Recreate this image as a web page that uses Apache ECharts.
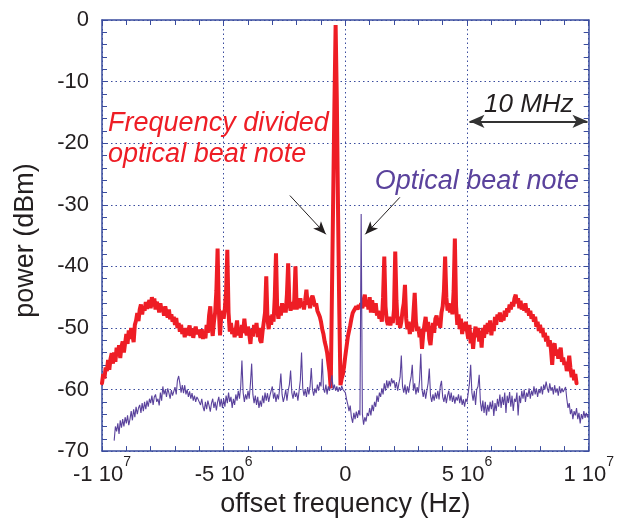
<!DOCTYPE html>
<html><head><meta charset="utf-8">
<script src="https://cdn.jsdelivr.net/npm/echarts@6/dist/echarts.min.js"></script>
<style>html,body{margin:0;padding:0;background:#fff}#c{width:617px;height:523px}</style>
</head><body><div id="c"></div>
<script>
// frequency grid (Hz): 401 points from -10 MHz to +10 MHz
const freqStartHz = -1e7;
const freqStepHz = 5e4;

// Frequency divided optical beat note (dBm), red
const redDbm = [
-59.0,-57.5,-58.2,-56.4,-57.0,-55.2,-56.8,-55.0,-54.1,-55.8,-54.0,-55.5,-53.2,-54.6,-52.8,-54.9,-53.0,-52.2,-54.0,-52.5,
-51.0,-52.6,-50.4,-51.8,-50.0,-50.2,-52.3,-49.5,-48.8,-47.6,-48.9,-47.0,-46.2,-47.8,-46.5,-47.2,-45.8,-46.9,-46.0,-45.5,
-46.8,-45.0,-46.5,-45.2,-47.0,-45.8,-46.3,-47.5,-46.0,-47.2,-46.8,-48.0,-46.5,-47.6,-48.3,-47.0,-48.6,-47.8,-49.0,-48.2,
-49.5,-48.4,-50.0,-49.2,-50.6,-49.5,-51.0,-50.2,-51.5,-50.0,-51.2,-50.4,-49.6,-51.3,-50.1,-51.6,-50.5,-49.8,-51.0,-50.3,
-50.8,-51.6,-50.2,-51.8,-50.5,-51.7,-49.5,-50.8,-48.0,-46.5,-49.8,-51.3,-49.0,-47.5,-44.0,-37.1,-47.0,-51.2,-48.0,-47.2,
-48.5,-46.8,-44.0,-37.3,-47.5,-50.6,-49.2,-51.0,-50.0,-51.5,-50.2,-48.8,-51.2,-50.0,-51.6,-49.5,-50.8,-48.5,-50.5,-51.2,
-49.8,-51.0,-52.6,-50.2,-51.4,-49.5,-50.8,-49.2,-51.5,-50.0,-52.0,-52.4,-50.5,-49.0,-47.5,-41.6,-48.5,-50.2,-48.0,-49.5,
-47.8,-49.0,-45.0,-37.9,-47.0,-48.5,-46.5,-48.0,-46.0,-47.5,-46.2,-47.5,-44.5,-39.5,-46.0,-47.2,-45.8,-47.0,-45.5,-40.0,
-47.0,-45.5,-46.8,-45.2,-46.5,-45.8,-47.0,-45.5,-43.8,-46.2,-45.6,-46.8,-45.2,-44.8,-45.5,-46.5,-46.0,-47.2,-47.0,-48.2,
-49.0,-50.2,-51.0,-52.2,-53.0,-54.0,-55.6,-57.2,-59.8,-44.0,-29.0,-14.0,-0.8,-13.0,-31.0,-47.0,-59.3,-58.2,-57.5,-56.2,
-54.5,-53.0,-51.5,-50.5,-49.6,-48.5,-47.6,-47.2,-46.9,-46.5,-47.0,-46.3,-46.8,-46.0,-46.8,-45.5,-44.6,-46.5,-45.5,-47.0,
-45.0,-47.5,-45.5,-46.8,-47.5,-46.0,-48.0,-47.2,-48.5,-47.8,-49.0,-45.0,-38.4,-46.5,-48.8,-49.5,-48.2,-49.6,-48.5,-49.2,
-47.0,-37.6,-45.5,-49.5,-48.2,-50.0,-49.0,-47.2,-46.0,-43.0,-48.5,-50.2,-49.0,-51.0,-49.5,-50.6,-47.5,-44.3,-49.0,-50.5,
-49.8,-51.5,-50.2,-53.4,-51.0,-49.5,-48.2,-50.6,-49.0,-51.8,-52.8,-50.5,-49.2,-50.8,-48.5,-48.0,-49.6,-48.5,-50.0,-47.5,
-46.5,-44.0,-38.4,-45.0,-47.2,-46.0,-47.5,-46.2,-47.8,-44.0,-35.5,-46.5,-49.5,-47.8,-50.2,-48.5,-51.0,-49.2,-50.5,-49.0,
-50.5,-51.8,-49.5,-52.5,-50.8,-53.4,-51.0,-49.8,-51.5,-50.0,-52.2,-50.5,-53.2,-50.0,-51.6,-49.5,-51.0,-49.2,-50.6,-48.8,
-51.2,-49.5,-50.5,-48.2,-49.5,-47.8,-48.6,-47.5,-49.0,-48.0,-48.8,-47.2,-48.2,-46.8,-47.5,-46.2,-47.0,-45.8,-46.5,-45.2,
-44.6,-46.0,-45.2,-46.8,-45.6,-47.0,-46.2,-47.2,-46.0,-47.5,-46.8,-48.0,-47.2,-48.5,-47.8,-49.0,-48.2,-49.8,-49.0,-50.5,
-49.5,-50.8,-50.0,-51.5,-50.8,-52.2,-51.3,-53.0,-52.0,-53.5,-56.0,-53.0,-52.5,-54.5,-53.5,-55.0,-54.0,-53.2,-55.5,-54.8,
-56.0,-55.5,-57.0,-56.2,-54.5,-56.5,-58.0,-56.8,-58.5,-57.5,-59.0,null,null,null,null,null,null,null,null,null,null
];

// Optical beat note (dBm), purple
const purpleDbm = [
null,null,null,null,null,null,null,null,null,null,-68.3,-66.0,-66.8,-65.5,-67.2,-65.0,-66.2,-64.8,-66.0,-64.5,
-65.5,-64.2,-65.8,-64.8,-63.5,-65.0,-63.2,-64.5,-62.8,-64.0,-63.0,-62.5,-63.8,-62.2,-63.5,-62.0,-63.2,-61.8,-62.8,-61.5,
-62.2,-61.0,-62.5,-61.2,-60.8,-62.0,-61.5,-62.6,-60.5,-61.8,-59.5,-60.8,-60.0,-61.2,-59.8,-60.6,-61.5,-60.1,-61.0,-60.3,
-59.6,-60.8,-58.5,-57.8,-59.0,-60.5,-59.3,-60.6,-59.3,-60.8,-60.0,-61.2,-60.3,-61.5,-60.6,-61.8,-61.0,-62.0,-61.2,-61.6,
-61.8,-62.5,-61.5,-62.8,-63.5,-62.0,-63.2,-61.8,-62.6,-63.6,-62.2,-61.5,-63.0,-62.0,-63.4,-62.0,-61.2,-62.8,-61.5,-63.0,
-61.5,-62.8,-61.0,-62.2,-60.5,-62.0,-61.2,-63.0,-61.5,-62.5,-60.8,-61.8,-60.2,-61.5,-59.5,-55.3,-60.5,-62.0,-60.8,-61.6,
-60.2,-61.5,-59.0,-55.8,-60.8,-62.2,-61.0,-62.5,-61.2,-63.0,-61.8,-62.8,-61.0,-62.2,-60.5,-61.8,-60.6,-62.0,-61.0,-60.2,
-59.5,-61.5,-60.5,-62.0,-60.8,-61.6,-59.8,-57.4,-60.8,-62.0,-61.2,-60.0,-61.8,-60.2,-59.2,-56.9,-60.5,-61.5,-60.2,-61.2,
-60.5,-61.8,-60.2,-58.5,-54.0,-59.8,-61.0,-60.0,-61.2,-59.6,-60.8,-59.5,-56.5,-60.0,-61.0,-59.8,-60.6,-59.2,-60.2,-58.8,
-59.5,-55.0,-59.8,-60.5,-59.2,-60.8,-59.5,-60.2,-59.0,-57.7,-60.0,-59.2,-60.2,-59.5,-60.4,-59.6,-60.2,-59.4,-60.0,-59.8,
-60.5,-61.6,-62.4,-63.5,-62.6,-64.5,-65.4,-63.8,-64.8,-63.6,-64.6,-63.4,-64.2,-31.5,-64.0,-65.7,-64.5,-65.2,-63.8,-64.3,
-63.0,-64.2,-62.5,-63.5,-62.0,-62.8,-61.0,-62.0,-60.5,-61.2,-59.8,-60.8,-59.0,-60.2,-58.5,-59.8,-58.6,-59.5,-58.2,-59.0,
-58.5,-59.8,-58.8,-60.2,-59.0,-58.0,-54.5,-59.5,-60.5,-59.2,-60.8,-59.5,-60.5,-59.0,-58.0,-56.0,-60.2,-59.0,-60.8,-59.6,
-60.5,-58.5,-54.2,-60.0,-61.2,-60.0,-61.5,-60.2,-59.0,-56.6,-61.0,-62.0,-60.8,-61.8,-60.5,-61.5,-60.2,-61.6,-59.5,-58.6,
-61.2,-62.0,-60.8,-62.2,-61.0,-60.2,-61.8,-60.5,-62.0,-61.0,-62.3,-61.2,-61.8,-60.8,-62.2,-61.0,-62.5,-61.6,-62.8,-61.5,
-62.0,-60.5,-59.0,-56.0,-60.5,-61.8,-60.2,-62.5,-60.0,-59.5,-57.6,-62.0,-63.5,-61.8,-63.8,-62.0,-64.2,-62.5,-63.6,-62.0,
-63.2,-61.8,-64.3,-62.2,-63.5,-61.5,-62.8,-60.8,-63.0,-61.2,-62.5,-60.5,-63.8,-61.0,-62.2,-60.4,-62.8,-61.0,-63.5,-61.5,
-62.0,-60.5,-64.2,-61.0,-62.2,-60.2,-61.5,-60.0,-62.0,-60.5,-61.2,-59.8,-61.5,-60.2,-61.0,-59.5,-60.8,-59.8,-61.2,-60.0,
-60.6,-59.5,-60.8,-59.2,-60.0,-58.7,-59.8,-60.5,-59.0,-60.2,-59.6,-60.8,-59.3,-60.5,-59.8,-61.0,-59.5,-60.6,-59.8,-60.4,
-60.0,-59.6,-61.5,-63.0,-62.2,-64.0,-63.2,-64.8,-63.5,-64.2,-63.0,-64.8,-63.8,-65.5,-64.0,-64.8,-63.5,-64.6,-63.8,-64.5,-64.0
];

// axis ticks
const xTickValues = [-1e7, -5e6, 0, 5e6, 1e7];
const xTickMain = ['-1 10', '-5 10', '0', '5 10', '1 10'];
const xTickExp = ['7', '6', '', '6', '7'];

// annotation texts and anchors (data coords: Hz, dBm)
const labelTexts = ['Frequency divided', 'optical beat note', 'Optical beat note', '10 MHz'];
const labelAnchors = [[-9.75e6, -16.8], [-9.75e6, -21.9], [1.21e6, -26.3], [7.54e6, -13.8]];
const arrowLines = [[-2.28e6, -28.5, -0.80e6, -34.8], [2.24e6, -28.8, 0.82e6, -34.8]];
const spanArrow = [5.1e6, 9.95e6, -16.45];

const toPairs = arr => arr.map((v, i) => v === null ? null : [freqStartHz + i * freqStepHz, v]).filter(p => p);

const AX = '#3a4c9e';
const FONT = 'Liberation Sans, Arial, Helvetica, sans-serif';
const RED = '#ee1d25';
const PURPLE = '#5a429c';

const chart = echarts.init(document.getElementById('c'), null, {renderer: 'canvas'});

function axisBase(extra) {
  return Object.assign({
    axisLine: {show: true, onZero: false, lineStyle: {color: AX, width: 1.5}},
    axisTick: {show: true, inside: true, length: 5, lineStyle: {color: AX, width: 1}},
    minorTick: {show: true, splitNumber: 5, length: 5, lineStyle: {color: AX, width: 1}},
    splitLine: {show: false},
    minorSplitLine: {show: false}
  }, extra);
}

const option = {
  animation: false,
  backgroundColor: '#fff',
  grid: {left: 102, top: 20, right: 28, bottom: 66, containLabel: false},
  xAxis: [
    axisBase({
      type: 'value', min: -1e7, max: 1e7, interval: 5e6, position: 'bottom',
      name: 'offset frequency (Hz)', nameLocation: 'middle', nameGap: 31,
      nameTextStyle: {fontFamily: FONT, fontSize: 27, color: '#231f20'},
      splitLine: {show: true, lineStyle: {color: AX, type: [1.5, 3], width: 1}},
      axisLabel: {
        margin: 9,
        formatter: v => {
          const i = xTickValues.indexOf(v);
          if (i < 0) return '';
          return xTickExp[i] ? '{b|' + xTickMain[i] + '}{s|' + xTickExp[i] + '}' : '{b|' + xTickMain[i] + '}';
        },
        rich: {
          b: {fontFamily: FONT, fontSize: 22, lineHeight: 26, color: '#231f20', padding: [5, 0, 0, 0], verticalAlign: 'bottom'},
          s: {fontFamily: FONT, fontSize: 14, lineHeight: 14, color: '#231f20', padding: [0, 0, 17, 0], verticalAlign: 'bottom'}
        }
      }
    }),
    axisBase({
      type: 'value', min: -1e7, max: 1e7, interval: 5e6, position: 'top',
      axisLabel: {show: false}
    })
  ],
  yAxis: [
    axisBase({
      type: 'value', min: -70, max: 0, interval: 10, position: 'left',
      name: 'power (dBm)', nameLocation: 'middle', nameGap: 63, nameRotate: 90,
      nameTextStyle: {fontFamily: FONT, fontSize: 27, color: '#231f20', padding: [0, 10, 0, 0]},
      splitLine: {show: true, lineStyle: {color: AX, type: [1.5, 3], width: 1}},
      axisLabel: {margin: 13, fontFamily: FONT, fontSize: 22, color: '#231f20'}
    }),
    axisBase({
      type: 'value', min: -70, max: 0, interval: 10, position: 'right',
      axisLabel: {show: false}
    })
  ],
  series: [
    {
      type: 'line', name: 'Frequency divided optical beat note',
      data: toPairs(redDbm), xAxisIndex: 0, yAxisIndex: 0,
      showSymbol: false, symbol: 'none', clip: false,
      lineStyle: {color: RED, width: 4, join: 'bevel', cap: 'round'},
      z: 3,
      markLine: {
        silent: true, animation: false,
        label: {show: false},
        emphasis: {disabled: true},
        data: [
          [{coord: [arrowLines[0][0], arrowLines[0][1]], symbol: 'none'}, {coord: [arrowLines[0][2], arrowLines[0][3]], symbol: 'arrow', symbolSize: [8, 13]}],
          [{coord: [arrowLines[1][0], arrowLines[1][1]], symbol: 'none'}, {coord: [arrowLines[1][2], arrowLines[1][3]], symbol: 'arrow', symbolSize: [8, 13]}]
        ],
        lineStyle: {color: '#231f20', width: 1, type: 'solid'}
      }
    },
    {
      type: 'line', name: 'Optical beat note',
      data: toPairs(purpleDbm), xAxisIndex: 0, yAxisIndex: 0,
      showSymbol: false, symbol: 'none', clip: false,
      lineStyle: {color: PURPLE, width: 1.1},
      z: 4,
      markLine: {
        silent: true, animation: false,
        label: {show: false},
        emphasis: {disabled: true},
        symbol: ['arrow', 'arrow'], symbolSize: [10, 15],
        data: [
          [{coord: [spanArrow[0], spanArrow[2]]}, {coord: [spanArrow[1], spanArrow[2]]}]
        ],
        lineStyle: {color: '#333', width: 2, type: 'solid'}
      }
    }
  ]
};
chart.setOption(option);

const px = labelAnchors.map(a => chart.convertToPixel({xAxisIndex: 0, yAxisIndex: 0}, a));
const labelStyles = [
  {fill: RED, align: 'left'},
  {fill: RED, align: 'left'},
  {fill: PURPLE, align: 'left'},
  {fill: '#231f20', align: 'center'}
];
const labelSizes = [27, 27, 27, 26];
chart.setOption({
  graphic: labelTexts.map((t, i) => ({
    type: 'text', x: px[i][0], y: px[i][1], z: 10, silent: true,
    style: {
      text: t, fill: labelStyles[i].fill, align: labelStyles[i].align, verticalAlign: 'middle',
      font: 'italic ' + labelSizes[i] + 'px ' + FONT
    }
  }))
});
</script>
</body></html>
